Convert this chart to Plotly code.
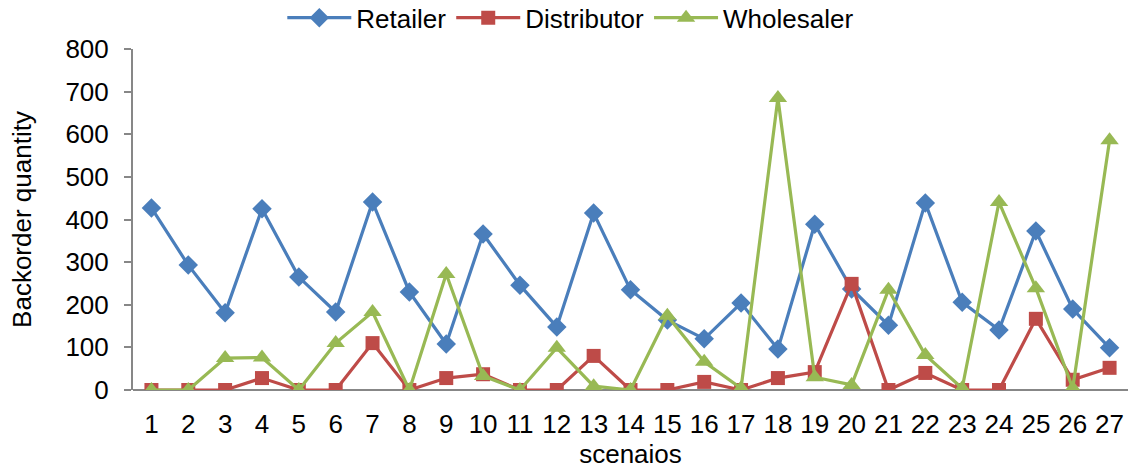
import plotly.graph_objects as go

scenarios = list(range(1, 28))
retailer = [427, 293, 181, 425, 265, 183, 441, 230, 108, 366, 246, 148, 415, 235,
            164, 120, 204, 96, 389, 237, 152, 439, 206, 141, 373, 190, 99]
distributor = [0, 0, 0, 28, 0, 0, 110, 0, 28, 37, 0, 0, 80, 0,
               0, 19, 0, 28, 42, 249, 0, 40, 0, 0, 167, 24, 52]
wholesaler = [0, 0, 75, 76, 0, 110, 183, 0, 272, 33, 0, 99, 9, 0,
              174, 66, 4, 685, 30, 12, 235, 82, 4, 441, 239, 4, 586]
y_ticks = [0, 100, 200, 300, 400, 500, 600, 700, 800]

FONT = "Liberation Sans, Arial, sans-serif"

fig = go.Figure()
series = [
    ("Retailer", retailer, "#4A7EBB", "diamond", 15),
    ("Distributor", distributor, "#BE4B48", "square", 14),
    ("Wholesaler", wholesaler, "#98B954", "triangle-up", 16),
]
for name, vals, color, symbol, size in series:
    fig.add_trace(go.Scatter(
        x=scenarios, y=vals, name=name, mode="lines+markers",
        line=dict(color=color, width=3.2),
        marker=dict(symbol=symbol, size=size, color=color),
    ))

fig.update_layout(
    width=1135, height=469,
    margin=dict(l=133, r=7, t=49, b=79, autoexpand=False),
    paper_bgcolor="white", plot_bgcolor="white",
    font=dict(family=FONT, size=26, color="black"),
    legend=dict(orientation="h", x=0.44, xanchor="center", y=0.962, yanchor="middle",
                yref="container", font=dict(size=26), itemwidth=64,
                tracegroupgap=0),
    showlegend=True,
)
fig.update_xaxes(
    range=[0.5, 27.5], tickmode="array", tickvals=scenarios,
    ticktext=[str(s) for s in scenarios],
    showgrid=False, zeroline=False, showline=False, ticks="",
    tickfont=dict(size=26), ticklabelstandoff=16,
    title=dict(text="scenaios", font=dict(size=26), standoff=2),
)
fig.update_yaxes(
    range=[0, 800], tickmode="array", tickvals=y_ticks,
    showgrid=False, zeroline=True, zerolinecolor="#878787", zerolinewidth=2,
    showline=True, linecolor="#878787", linewidth=2,
    ticks="outside", ticklen=7, tickcolor="#878787", tickwidth=2,
    tickfont=dict(size=26), ticklabelstandoff=10,
    title=dict(text="Backorder quantity", font=dict(size=26), standoff=26),
)

fig.write_html("out.html")
